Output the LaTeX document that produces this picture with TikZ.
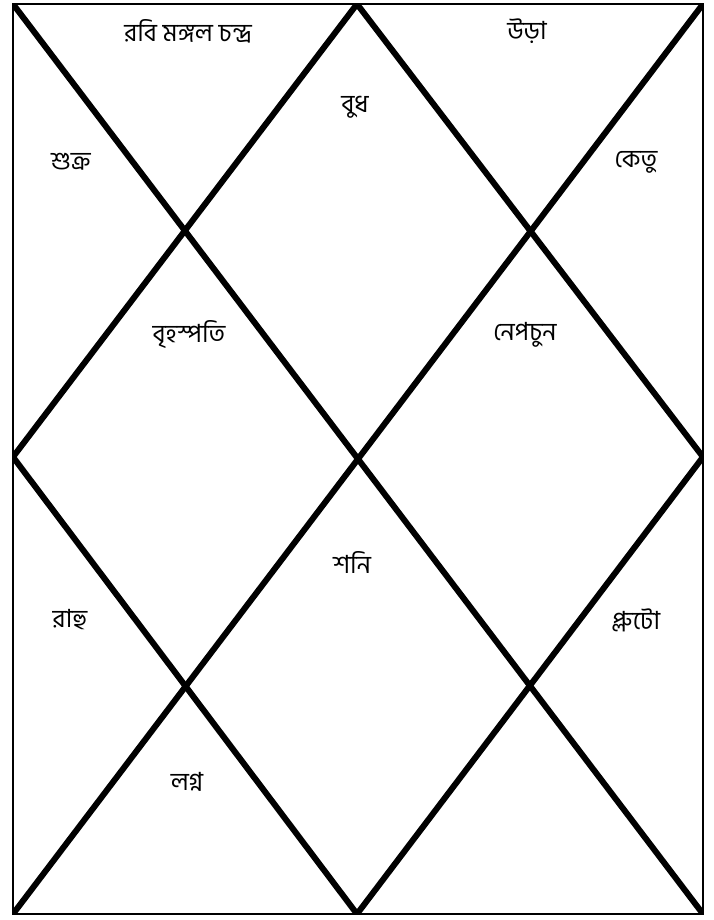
\documentclass[tikz,border=0pt]{standalone}
\usepackage{fontspec}
\newfontfamily\bn[Script=Bengali]{Hind Siliguri}
\tikzset{
  frame/.style={line width=2.2pt},
  thick line/.style={line width=6pt, line cap=round, line join=miter},
  lbl/.style={font=\bn\fontsize{25}{28}\selectfont, inner sep=0pt}
}
\begin{document}
\begin{tikzpicture}[x=1pt,y=-1pt]
\useasboundingbox (0,0) rectangle (713,920);
\coordinate (TL) at (13,4);
\coordinate (TR) at (703,4);
\coordinate (BL) at (13,914);
\coordinate (BR) at (703,914);
\coordinate (T) at (357,4);
\coordinate (L) at (13,457);
\coordinate (B) at (357,914);
\coordinate (R) at (703,457);
\draw[frame] (TL) rectangle (BR);
\begin{scope}
\clip (TL) rectangle (BR);
\draw[thick line] (TL) -- (BR);
\draw[thick line] (TR) -- (BL);
\draw[thick line] (T) -- (L) -- (B) -- (R) -- cycle;
\end{scope}
\node[lbl] (h12) at (188,31) {রবি মঙ্গল চন্দ্র};
\node[lbl] (h2) at (527,31) {উড়া};
\node[lbl] (h1) at (355,107) {বুধ};
\node[lbl] (h11) at (71,162) {শুক্র};
\node[lbl] (h3) at (636,162) {কেতু};
\node[lbl] (h10) at (189,335) {বৃহস্পতি};
\node[lbl] (h4) at (525,335) {নেপচুন};
\node[lbl] (h7) at (352,562) {শনি};
\node[lbl] (h9) at (70,620) {রাহু};
\node[lbl] (h5) at (636,620) {প্লুটো};
\node[lbl] (h8) at (187,782) {লগ্ন};
\end{tikzpicture}
\end{document}
